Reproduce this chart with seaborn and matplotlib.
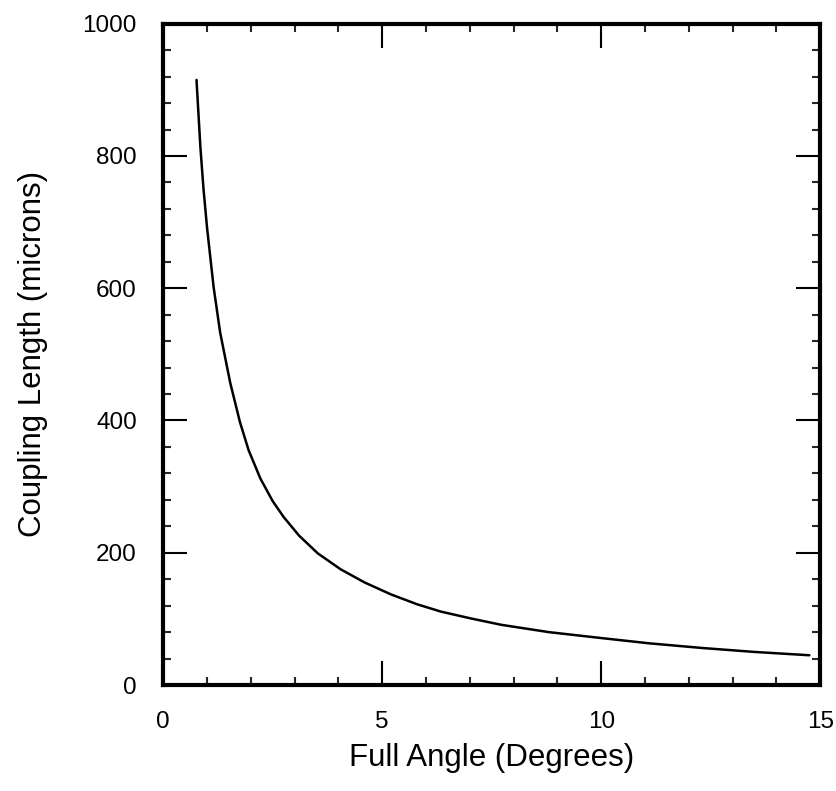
import numpy as np
import pandas as pd
import matplotlib
matplotlib.use("Agg")
import matplotlib.pyplot as plt
from matplotlib.ticker import MultipleLocator
import seaborn as sns

# Values
full_angle = [0.76, 0.85, 0.92, 1.0, 1.15, 1.3, 1.53, 1.75, 1.95, 2.22, 2.5, 2.75,
              3.1, 3.53, 4.05, 4.6, 5.2, 5.8, 6.34, 7.0, 7.72, 8.8, 10.0, 11.1,
              12.3, 13.5, 14.75]
coupling_length = [915, 812, 750, 692, 602, 533, 457, 398, 355, 312, 278, 254,
                   226, 199, 175, 155, 137, 122, 111, 101, 91, 80, 71, 63,
                   56, 50, 45]

df = pd.DataFrame({"angle": full_angle, "length": coupling_length})

sns.set_style("ticks")
plt.rcParams["font.family"] = ["Liberation Sans", "DejaVu Sans"]

fig = plt.figure(figsize=(8.37, 7.91), dpi=100)
ax = fig.add_axes([0.195, 0.134, 0.785, 0.836])

sns.lineplot(data=df, x="angle", y="length", color="black", linewidth=1.8, ax=ax)

ax.set_xlim(0, 15)
ax.set_ylim(0, 1000)
ax.xaxis.set_major_locator(MultipleLocator(5))
ax.xaxis.set_minor_locator(MultipleLocator(1))
ax.yaxis.set_major_locator(MultipleLocator(200))
ax.yaxis.set_minor_locator(MultipleLocator(40))

for side in ["left", "right", "top", "bottom"]:
    ax.spines[side].set_visible(True)
    ax.spines[side].set_linewidth(3)
    ax.spines[side].set_color("black")

ax.tick_params(which="major", direction="in", length=17, width=1.5,
               top=True, right=True, labelsize=17.5, colors="black")
ax.tick_params(axis="y", which="major", pad=19)
ax.tick_params(axis="x", which="major", pad=19)
ax.tick_params(which="minor", direction="in", length=6, width=1.5,
               top=True, right=True)

ax.set_xlabel("Full Angle (Degrees)", fontsize=22.5, labelpad=7, color="black")
ax.set_ylabel("Coupling Length (microns)", fontsize=22.5, labelpad=25, color="black")

fig.savefig("out.png", dpi=100)
